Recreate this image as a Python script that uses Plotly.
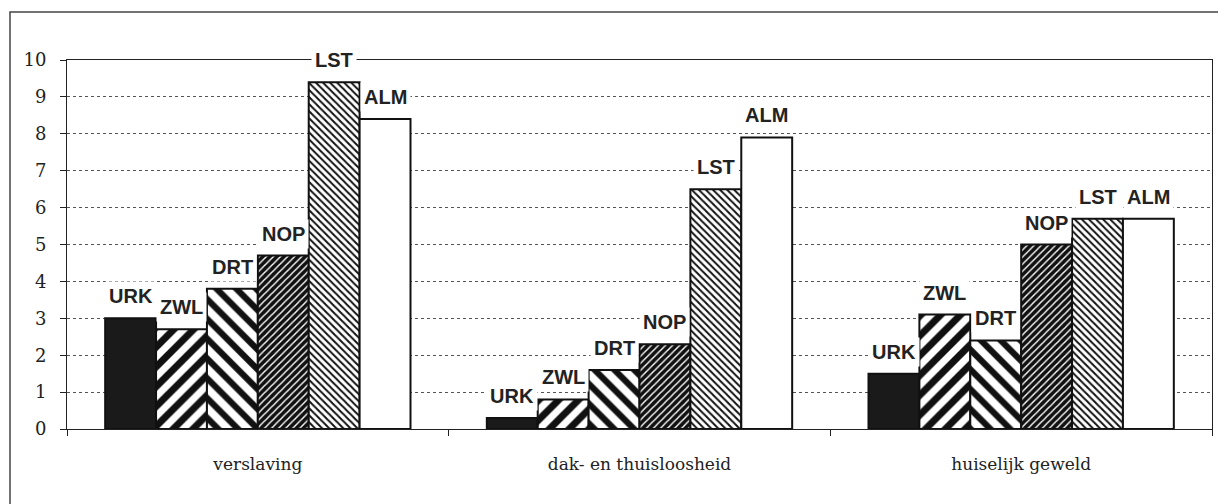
import plotly.graph_objects as go

categories = ["verslaving", "dak- en thuisloosheid", "huiselijk geweld"]
regions = ["URK", "ZWL", "DRT", "NOP", "LST", "ALM"]

urk = [3.0, 0.3, 1.5]
zwl = [2.7, 0.8, 3.1]
drt = [3.8, 1.6, 2.4]
nop = [4.7, 2.3, 5.0]
lst = [9.4, 6.5, 5.7]
alm = [8.4, 7.9, 5.7]

y_ticks = list(range(0, 11))

series = [urk, zwl, drt, nop, lst, alm]

# fill styles per region (print-style hatching)
fills = [
    dict(color="#1a1a1a"),
    dict(color="white", pattern=dict(shape="/", fgcolor="#111", bgcolor="white",
                                     size=14, solidity=0.5, fillmode="replace")),
    dict(color="white", pattern=dict(shape="\\", fgcolor="#111", bgcolor="white",
                                     size=14, solidity=0.45, fillmode="replace")),
    dict(color="#111", pattern=dict(shape="/", fgcolor="white", bgcolor="#111",
                                    size=5, solidity=0.28, fillmode="replace")),
    dict(color="white", pattern=dict(shape="\\", fgcolor="#111", bgcolor="white",
                                     size=5, solidity=0.4, fillmode="replace")),
    dict(color="white"),
]

BARGAP = 0.2

fig = go.Figure()
for name, vals, fill in zip(regions, series, fills):
    fig.add_trace(go.Bar(
        x=categories, y=vals, name=name,
        marker=dict(line=dict(color="#111", width=2), **fill),
    ))

# region labels above each bar, on white boxes that cut the gridlines
w = (1 - BARGAP) / len(regions)
annotations = []
for i, (name, vals) in enumerate(zip(regions, series)):
    for c, v in enumerate(vals):
        annotations.append(dict(
            x=c + (i - (len(regions) - 1) / 2) * w, y=v, xref="x", yref="y",
            text="<b>%s</b>" % name, showarrow=False, yanchor="bottom", yshift=7,
            bgcolor="white", borderpad=3,
            font=dict(family="Liberation Sans, Arial", size=20, color="#222"),
        ))

# page body adds an 8px offset, so the figure is laid out 8px up/left
OFF = 8
W, H = 1226, 504
L, T = 67 - OFF, 60 - OFF
pw, ph = 1145, 369
R = W - L - pw
B = H - T - ph

def px(x):
    return (x - OFF - L) / pw

def py(y):
    return (T + ph - (y - OFF)) / ph

fig.update_layout(
    width=W, height=H,
    margin=dict(l=L, r=R, t=T, b=B, autoexpand=False),
    barmode="group", bargap=BARGAP, bargroupgap=0,
    plot_bgcolor="white", paper_bgcolor="white",
    showlegend=False,
    annotations=annotations,
    shapes=[dict(type="path", xref="paper", yref="paper",
                 path="M %f %f L %f %f L %f %f" % (px(10), py(530), px(10), py(12), px(1240), py(12)),
                 line=dict(color="#444", width=1.5))],
    font=dict(family="DejaVu Serif, serif", color="#222"),
)

fig.update_xaxes(
    automargin=False,
    showline=True, linecolor="#222", linewidth=1, mirror=True,
    ticks="outside", tickson="boundaries", ticklen=6, tickcolor="#222",
    ticklabelstandoff=20, tickfont=dict(size=17, family="DejaVu Serif, serif"),
    showgrid=False,
)
fig.update_yaxes(
    automargin=False,
    range=[0, 10], tickvals=y_ticks,
    showline=True, linecolor="#222", linewidth=1, mirror=True,
    ticks="outside", ticklen=6, tickcolor="#222", ticklabelstandoff=10,
    tickfont=dict(size=18, family="DejaVu Serif, serif"),
    showgrid=True, gridcolor="#555", gridwidth=1, griddash="dot",
    zeroline=False,
)

fig.write_html("out.html")
